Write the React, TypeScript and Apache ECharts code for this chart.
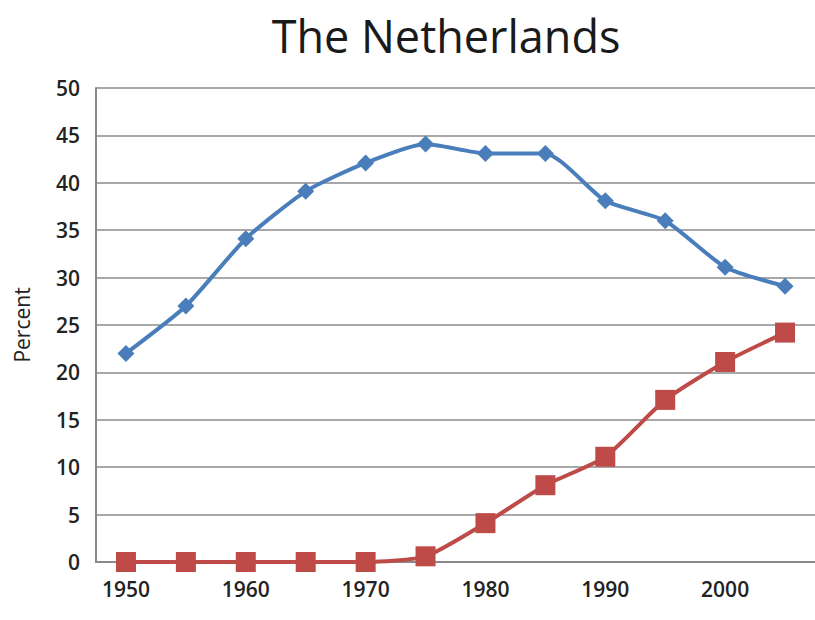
import React, { useEffect, useRef } from "react";
import * as echarts from "echarts";

const years = ["1950", "1955", "1960", "1965", "1970", "1975", "1980", "1985", "1990", "1995", "2000", "2005"];
const blueSeries = [22, 27, 34.1, 39.1, 42.1, 44.1, 43.1, 43.1, 38.1, 36, 31.1, 29.1];
const redSeries = [0, 0, 0, 0, 0, 0.6, 4.1, 8.1, 11.1, 17.1, 21.1, 24.2];
const titleText = "The Netherlands";
const yAxisName = "Percent";

export default function App() {
  const ref = useRef<HTMLDivElement>(null);
  useEffect(() => {
    if (!ref.current) return;
    const chart = echarts.init(ref.current, null, { renderer: "svg" });
    chart.setOption({
      animation: false,
      backgroundColor: "#ffffff",
      title: {
        text: titleText,
        left: 441,
        textAlign: "center",
        top: 8,
        textStyle: { fontFamily: "Open Sans", fontSize: 45, fontWeight: 500, color: "#1a1a1a" },
      },
      grid: { left: 96, right: -5, top: 88, bottom: 58, containLabel: false },
      xAxis: {
        type: "category",
        data: years,
        boundaryGap: true,
        axisLine: { lineStyle: { color: "#8a8a8a", width: 2 } },
        axisTick: { show: false },
        axisLabel: {
          interval: 1,
          margin: 16,
          fontFamily: "Open Sans",
          fontSize: 21,
          fontWeight: 600,
          color: "#222",
        },
        splitLine: { show: false },
      },
      yAxis: {
        type: "value",
        min: 0,
        max: 50,
        interval: 5,
        name: yAxisName,
        nameLocation: "middle",
        nameGap: 64,
        nameRotate: 90,
        nameTextStyle: { fontFamily: "Open Sans", fontSize: 21, color: "#222" },
        axisLine: { show: true, lineStyle: { color: "#8a8a8a", width: 2 } },
        axisTick: { show: false },
        axisLabel: { margin: 16, fontFamily: "Open Sans", fontSize: 21, fontWeight: 600, color: "#222" },
        splitLine: { lineStyle: { color: "#a8a8a8", width: 2 } },
      },
      series: [
        {
          type: "line",
          data: blueSeries,
          smooth: 0.2,
          symbol: "diamond",
          symbolSize: 17,
          lineStyle: { color: "#4a7ebb", width: 4 },
          itemStyle: { color: "#4a7ebb" },
        },
        {
          type: "line",
          data: redSeries,
          smooth: 0.2,
          symbol: "rect",
          symbolSize: 20,
          lineStyle: { color: "#be4b48", width: 4 },
          itemStyle: { color: "#be4b48" },
        },
      ],
    });
    return () => chart.dispose();
  }, []);
  return <div ref={ref} style={{ position: "absolute", left: 0, top: 0, width: 815, height: 620 }} />;
}
